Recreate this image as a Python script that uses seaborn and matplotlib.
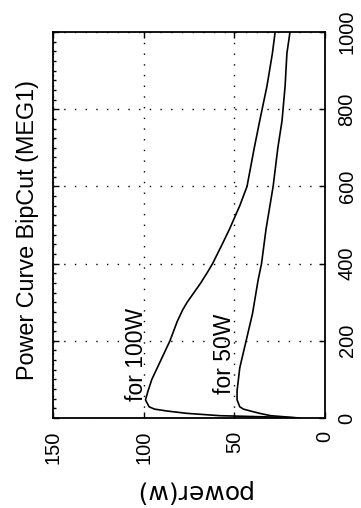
import matplotlib
matplotlib.use("Agg")
import matplotlib.pyplot as plt
from matplotlib.ticker import MultipleLocator, FixedLocator
import seaborn as sns
import pandas as pd

# ---- data (distance along x-axis vs power) ----
x_100w = [0, 3, 6, 12, 18, 23, 29, 47, 70, 100, 150, 200, 250, 280, 300, 320,
          350, 380, 400, 450, 490, 550, 600, 650, 700, 770, 860, 945, 1000]
p_100w = [14, 33, 58, 76, 87, 94, 97, 99, 97.6, 95.5, 90.5, 85.5, 81.5, 78.5, 76, 73,
          68.5, 64.5, 62, 56.7, 52.6, 47, 43, 41, 39, 36, 32, 29, 27.5]

x_50w = [0, 3, 6, 12, 18, 23, 29, 47, 70, 130, 220, 270, 357, 400, 490, 600,
         700, 770, 860, 945, 1000]
p_50w = [14, 22, 30, 36, 41, 45, 47, 48.5, 48.5, 47, 42.5, 40, 36.9, 35, 32.5, 28.6,
         26, 23.7, 22, 21, 19.3]

x_ticks = [0, 200, 400, 600, 800, 1000]
p_ticks = [0, 50, 100, 150]
title_text = "Power Curve BipCut (MEG1)"
power_label = "power(w)"
label_100 = "for 100W"
label_50 = "for 50W"

sns.set_style("white")
plt.rcParams["font.family"] = ["Liberation Sans", "DejaVu Sans"]

fig = plt.figure(figsize=(3.61, 5.08), dpi=100)
ax = fig.add_axes([53 / 361, 90 / 508, 272 / 361, 386 / 508])

df100 = pd.DataFrame({"power": p_100w, "x": x_100w})
df50 = pd.DataFrame({"power": p_50w, "x": x_50w})
sns.lineplot(data=df100, x="power", y="x", sort=False, estimator=None,
             orient="y", color="black", lw=1.2, ax=ax)
sns.lineplot(data=df50, x="power", y="x", sort=False, estimator=None,
             orient="y", color="black", lw=1.2, ax=ax)

ax.set_xlim(150, 0)
ax.set_ylim(0, 1000)

ax.xaxis.set_major_locator(FixedLocator(p_ticks))
ax.yaxis.set_major_locator(FixedLocator(x_ticks))
ax.yaxis.set_minor_locator(MultipleLocator(25))

ax.grid(True, which="major", color="black", linestyle=(0, (1, 6.7)), lw=1.0)

for s in ax.spines.values():
    s.set_color("black")
    s.set_linewidth(1.3)

ax.tick_params(axis="both", which="major", direction="in", length=4, width=1.0,
               color="black", labelsize=14.4, labelcolor="black")
ax.tick_params(axis="x", which="major", top=True, bottom=True, pad=9.4,
               labelrotation=90)
ax.tick_params(axis="y", which="major", left=True, right=True,
               labelleft=False, labelright=True, pad=9.0, labelrotation=90)
ax.tick_params(axis="y", which="minor", left=True, right=False,
               direction="in", length=2.5, width=1.0, color="black")

for t in ax.yaxis.get_major_ticks():
    t.label2.set_va("center")
    t.label2.set_ha("left")
for t in ax.xaxis.get_major_ticks():
    t.label1.set_va("top")
    t.label1.set_ha("center")

ax.set_xlabel("")
ax.set_ylabel("")

# title on the left, rotated
ax.text(-0.094, 0.488, title_text, transform=ax.transAxes, rotation=90,
        ha="center", va="center", fontsize=16.8, color="black")

# horizontal-axis label, upside down
ax.text(0.511, -0.189, power_label, transform=ax.transAxes, rotation=180,
        ha="center", va="center", fontsize=18, color="black",
        family=["DejaVu Sans"])

# curve labels
ax.text(104, 44, label_100, rotation=90, ha="center", va="bottom",
        fontsize=16.5, color="black")
ax.text(55.6, 62, label_50, rotation=90, ha="center", va="bottom",
        fontsize=16.5, color="black")

fig.savefig("out.png", dpi=100)
